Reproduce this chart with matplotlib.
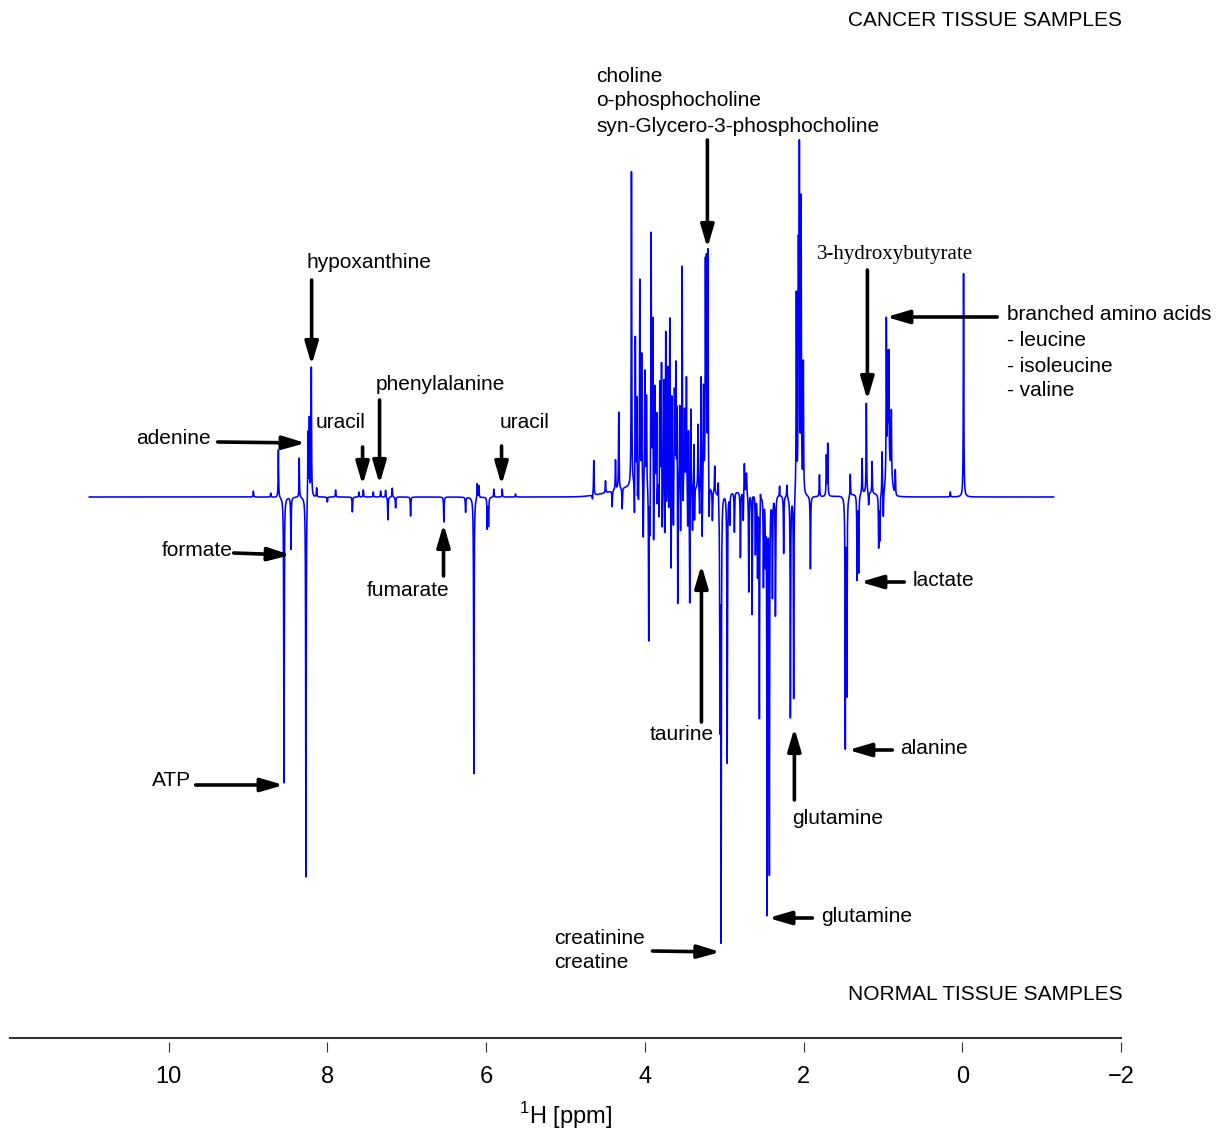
import numpy as np
import matplotlib
matplotlib.use("Agg")
import matplotlib.pyplot as plt

plt.rcParams['font.family'] = ['Liberation Sans', 'DejaVu Sans']

# ---- peak tables ----
# cancer tissue signals (plotted upward)
cancer_ppm = [8.933, 8.715, 8.618, 8.356, 8.245, 8.228, 8.203, 8.136, 8.001, 7.897,
              7.603, 7.548, 7.422, 7.330, 7.267, 7.183, 6.112, 6.092, 5.903, 5.797, 5.630,
              4.644, 4.496, 4.370, 4.329, 4.169, 4.120, 4.100, 4.064, 4.040, 4.001, 3.980,
              3.950, 3.921, 3.900, 3.875, 3.850, 3.812, 3.790, 3.760, 3.737, 3.710, 3.686,
              3.660, 3.627, 3.610, 3.593, 3.560, 3.530, 3.500, 3.476, 3.450, 3.420, 3.380,
              3.330, 3.291, 3.260, 3.237, 3.224, 3.205, 3.120, 3.075, 2.746, 2.720, 2.640,
              2.544, 2.301, 2.210, 2.091, 2.065, 2.053, 2.031, 2.003, 1.800, 1.713, 1.696,
              1.411, 1.263, 1.209, 1.137, 1.011, 0.957, 0.940, 0.926, 0.894, 0.844, 0.151,
              -0.016]
cancer_int = [6, 4, 48, 44, 69, 78, 129, 9, 6, 7,
              5, 7, 5, 6, 7, 9, 15, 12, 8, 8, 3,
              35, 12, 30, 77, 315, 150, 90, 205, 130, 115, 90,
              70, 255, 170, 100, 85, 110, 130, 110, 160, 120, 170,
              100, 95, 120, 100, 85, 225, 75, 110, 65, 85, 60,
              65, 115, 100, 215, 215, 235, 27, 19, 30, 20, 10,
              15, 27, 12, 200, 230, 330, 290, 130, 22, 40, 52,
              22, 35, 90, 32, 44, 160, 110, 110, 65, 25, 5,
              224]

# normal tissue signals (plotted downward)
normal_ppm = [8.548, 8.460, 8.359, 8.271, 8.001, 7.686, 7.238, 7.141, 6.952, 6.533, 6.259,
              6.155, 5.986, 5.970, 4.660, 4.412, 4.286, 4.131, 4.093, 4.080, 4.020, 3.951,
              3.935, 3.890, 3.845, 3.820, 3.782, 3.750, 3.728, 3.700, 3.669, 3.640, 3.586,
              3.550, 3.520, 3.460, 3.435, 3.400, 3.375, 3.310, 3.278, 3.190, 3.149, 3.054,
              3.039, 2.963, 2.930, 2.872, 2.796, 2.760, 2.691, 2.649, 2.607, 2.580, 2.557,
              2.506, 2.480, 2.460, 2.431, 2.393, 2.355, 2.300, 2.251, 2.166, 2.125, 1.914,
              1.474, 1.455, 1.326, 1.306, 1.180, 1.054, 1.039, 0.995]
normal_int = [-286, -52, -8, -383, -11, -15, -23, -11, -19, -25, -15,
              -278, -31, -28, -5, -16, -21, -43, -30, -25, -60, -221,
              -60, -80, -45, -50, -65, -70, -40, -45, -103, -50, -142,
              -60, -40, -50, -123, -45, -50, -30, -60, -40, -30, -220,
              -440, -270, -30, -40, -66, -30, -100, -123, -60, -80, -225,
              -90, -60, -415, -375, -100, -120, -20, -58, -222, -205, -73,
              -248, -195, -85, -78, -13, -52, -45, -26]

line_hw = 0.0035   # Lorentzian half-width (ppm)

# broad underlying signals (ppm, intensity, width)
broad_ppm = [4.20, 3.60, 2.70, 1.25, 0.92]
broad_int = [8, 10, 6, 4, 28]
broad_wid = [0.25, 0.30, 0.30, 0.20, 0.03]

ppm = np.linspace(11.0, -1.15, 26000)
spec = np.zeros_like(ppm)
for c, h in zip(cancer_ppm + normal_ppm, cancer_int + normal_int):
    spec += h * line_hw**2 / ((ppm - c)**2 + line_hw**2)
for c, h, w in zip(broad_ppm, broad_int, broad_wid):
    spec += h * np.exp(-0.5 * ((ppm - c) / w) ** 2)

fig = plt.figure(figsize=(12.24, 11.33), dpi=100)
ax = fig.add_axes([10/1224, 91/1133, 1111/1224, 1042/1133])
ax.plot(ppm, spec, color='#0000ff', lw=1.15)
ax.set_xlim(12, -2)
ax.set_ylim(-545, 497)
for s in ['left', 'right', 'top', 'bottom']:
    ax.spines[s].set_visible(False)
ax.set_yticks([])
ax.set_xticks([10, 8, 6, 4, 2, 0, -2])
ax.set_xticklabels(['10', '8', '6', '4', '2', '0', '\u22122'])
ax.tick_params(axis='x', direction='out', length=7.2, width=0.8, color='#333333',
               labelsize=17, pad=10)
ax.axhline(-541, color='#333333', lw=1.5, clip_on=False)
ax.set_xlabel(r'$^{\mathregular{1}}$H [ppm]', fontsize=17, labelpad=9)

fs = 15

def label(x, y, s, ha='left', family=None):
    kw = dict(fontsize=fs, ha=ha, va='center')
    if family:
        kw['family'] = family
    ax.text(x, y, s, **kw)

def arrow(x0, y0, x1, y1):
    ax.annotate('', xy=(x1, y1), xytext=(x0, y0),
                arrowprops=dict(arrowstyle='-|>,head_length=0.85,head_width=0.25',
                                lw=2.6, color='black', mutation_scale=16,
                                shrinkA=0, shrinkB=0))

label(-2.015, 477, 'CANCER TISSUE SAMPLES', ha='right')
label(-2.015, -497, 'NORMAL TISSUE SAMPLES', ha='right')

label(4.610, 421, 'choline')
label(4.610, 396, 'o-phosphocholine')
label(4.610, 370, 'syn-Glycero-3-phosphocholine')
arrow(3.212, 357, 3.212, 249)

label(8.262, 234, 'hypoxanthine')
arrow(8.199, 217, 8.199, 132)

label(9.471, 59, 'adenine', ha='right')
arrow(9.383, 55, 8.275, 54)

label(8.149, 75, 'uracil')
arrow(7.557, 50, 7.557, 12)

label(7.393, 113, 'phenylalanine')
arrow(7.343, 97, 7.343, 13)

label(5.831, 75, 'uracil')
arrow(5.806, 51, 5.806, 12)

label(9.190, -53, 'formate', ha='right')
arrow(9.181, -56, 8.463, -58)

label(6.980, -94, 'fumarate', ha='center')
arrow(6.537, -79, 6.537, -27)

label(9.720, -283, 'ATP', ha='right')
arrow(9.660, -288, 8.552, -288)

label(3.942, -237, 'taurine')
arrow(3.287, -225, 3.287, -68)

label(5.139, -441, 'creatinine')
label(5.139, -466, 'creatine')
arrow(3.904, -454, 3.048, -455)

label(2.141, -322, 'glutamine')
arrow(2.116, -303, 2.116, -231)

label(1.776, -420, 'glutamine')
arrow(1.889, -421, 2.443, -421)

label(0.781, -251, 'alanine')
arrow(0.882, -253, 1.436, -253)

label(0.630, -84, 'lactate')
arrow(0.730, -85, 1.285, -85)

label(1.826, 242, '3-hydroxybutyrate', family=['Liberation Serif', 'DejaVu Serif'])
arrow(1.196, 227, 1.196, 97)

label(-0.567, 182, 'branched amino acids')
label(-0.567, 157, '- leucine')
label(-0.567, 131, '- isoleucine')
label(-0.567, 106, '- valine')
arrow(-0.441, 180, 0.957, 180)

fig.savefig('out.png', dpi=100)
